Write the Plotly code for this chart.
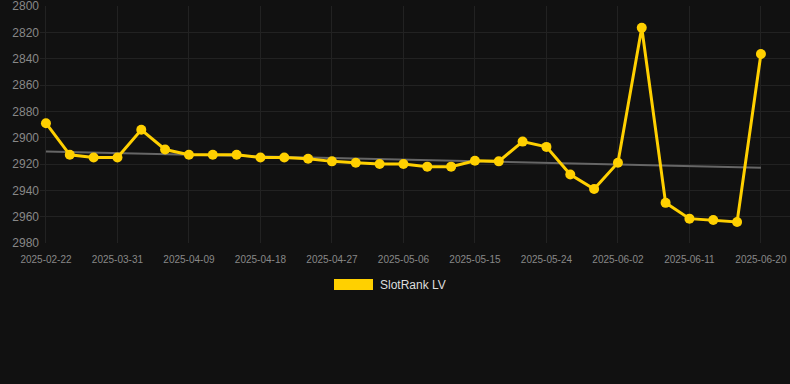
import plotly.graph_objects as go
import datetime as dt

# Data
start = dt.date(2025, 3, 31)
dates = ["2025-02-22", "2025-03-25", "2025-03-28"] + [
    (start + dt.timedelta(days=3 * k)).isoformat() for k in range(0, 28)
]
ranks = [2889, 2913, 2915, 2915, 2894, 2909, 2913, 2913, 2913, 2915,
         2915, 2916, 2918, 2919, 2920, 2920, 2922, 2922, 2917.5, 2918,
         2903, 2907, 2928, 2939, 2919, 2816.5, 2949.5, 2961.5, 2962.5, 2964,
         2836.5]
trend_x = [dates[0], dates[-1]]
trend_y = [2910.6, 2922.8]
tick_dates = dates[::3]
y_ticks = [2800, 2820, 2840, 2860, 2880, 2900, 2920, 2940, 2960, 2980]
series_name = "SlotRank LV"

gold = "#FFD000"
bg = "#111111"

fig = go.Figure()
fig.add_trace(go.Scatter(
    x=trend_x, y=trend_y, mode="lines",
    line=dict(color="#666666", width=2), hoverinfo="skip", showlegend=False))
fig.add_trace(go.Scatter(
    x=dates, y=ranks, mode="lines+markers", name=series_name,
    line=dict(color=gold, width=3),
    marker=dict(color=gold, size=10), showlegend=False))

fig.update_layout(
    width=790, height=384,
    paper_bgcolor=bg, plot_bgcolor=bg,
    margin=dict(l=40, r=0, t=6, b=141),
    font=dict(family="Liberation Sans, Arial, sans-serif", color="#888888", size=11),
    xaxis=dict(type="category", categoryorder="array", categoryarray=dates,
               range=[-0.25, 31.22], tickvals=tick_dates, ticktext=tick_dates,
               showgrid=True, gridcolor="#222222", gridwidth=1,
               zeroline=False, showline=False, ticks="",
               ticklabelstandoff=9,
               tickfont=dict(size=10, color="#888888")),
    yaxis=dict(range=[2980, 2800], tickvals=y_ticks,
               showgrid=True, gridcolor="#222222", gridwidth=1,
               zeroline=False, showline=False, ticks="",
               ticklabeloverflow="allow",
               tickfont=dict(size=12, color="#888888")),
    shapes=[dict(type="rect", xref="paper", yref="paper",
                 x0=(334 - 40) / 750, x1=(373 - 40) / 750,
                 y0=(384 - 141 - 290) / 237, y1=(384 - 141 - 279) / 237,
                 fillcolor=gold, line=dict(width=0))],
    annotations=[dict(text=series_name, xref="paper", yref="paper",
                      x=(378 - 40) / 750, y=(384 - 141 - 284.5) / 237,
                      xanchor="left", yanchor="middle", showarrow=False,
                      font=dict(size=12, color="#dddddd"))],
)

fig.write_html("out.html", config={"displayModeBar": False},
               post_script="document.body.style.margin='0';document.body.style.background='#111111';")
